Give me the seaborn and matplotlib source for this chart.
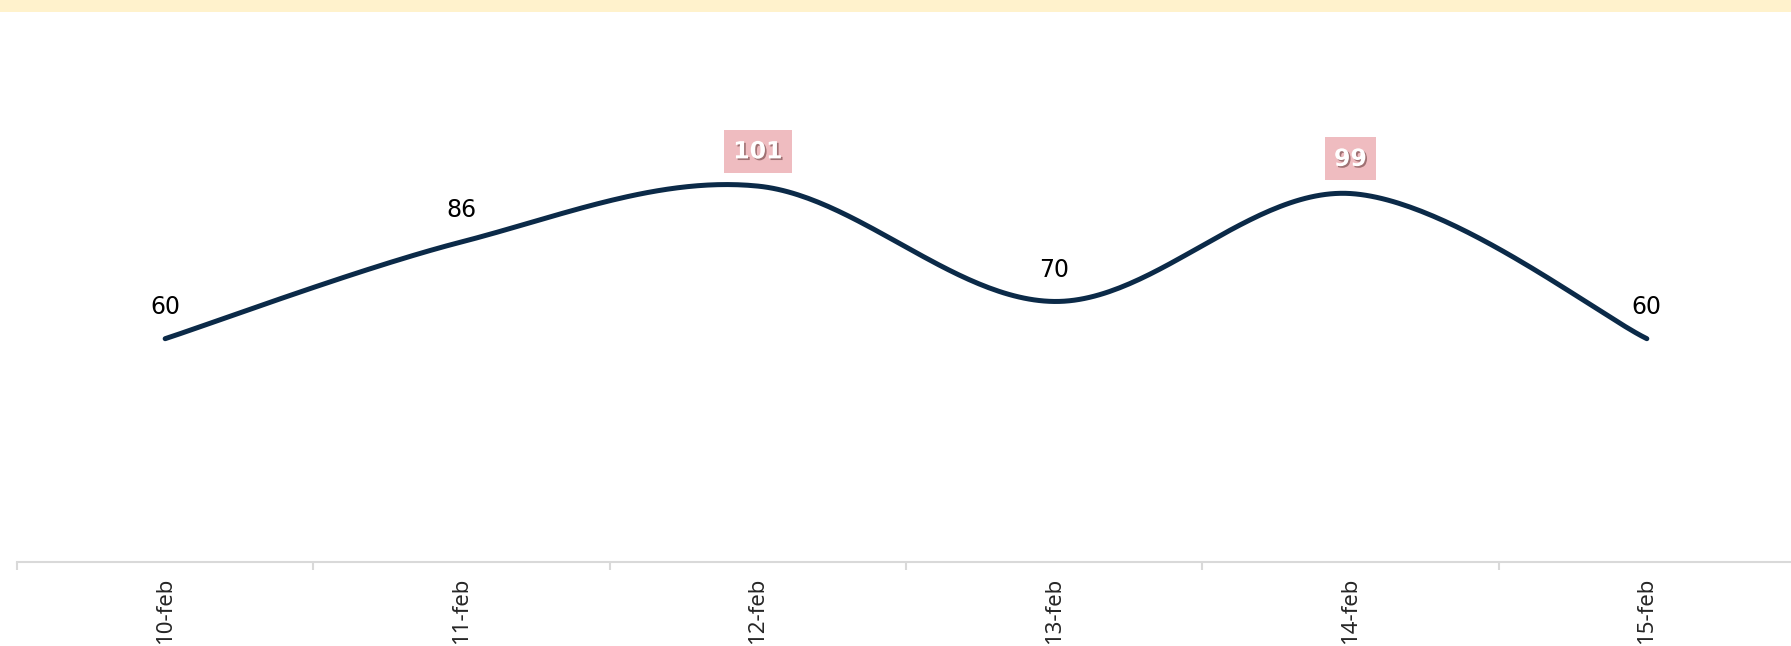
import numpy as np
import pandas as pd
import seaborn as sns
import matplotlib.pyplot as plt
import matplotlib.patheffects as pe
from matplotlib.patches import Rectangle

# data
dates = ['10-feb', '11-feb', '12-feb', '13-feb', '14-feb', '15-feb']
values = [60, 86, 101, 70, 99, 60]
highlight = ['12-feb', '14-feb']

line_color = '#0b2a48'


def smooth(x, y, n=60):
    """Catmull-Rom curve through the points, like a smoothed office line."""
    px = np.concatenate([[x[0]], x, [x[-1]]]).astype(float)
    py = np.concatenate([[y[0]], y, [y[-1]]]).astype(float)
    xs, ys = [], []
    for i in range(1, len(px) - 2):
        t = np.linspace(0, 1, n)
        for p, out in ((px, xs), (py, ys)):
            p0, p1, p2, p3 = p[i - 1], p[i], p[i + 1], p[i + 2]
            out.extend(0.5 * ((2 * p1) + (-p0 + p2) * t
                              + (2 * p0 - 5 * p1 + 4 * p2 - p3) * t ** 2
                              + (-p0 + 3 * p1 - 3 * p2 + p3) * t ** 3))
    return np.array(xs), np.array(ys)


sns.set_style('white')
plt.rcParams['font.family'] = ['DejaVu Sans']

fig = plt.figure(figsize=(17.91, 6.46), dpi=100)
ax = fig.add_axes([17 / 1791, 84 / 646, 1778 / 1791, 562 / 646])

pos = np.arange(len(dates))
sx, sy = smooth(pos, values)
curve = pd.DataFrame({'x': sx, 'y': sy})
sns.lineplot(data=curve, x='x', y='y', sort=False, estimator=None,
             color=line_color, lw=3.6, ax=ax, solid_capstyle='round')

for i, (d, v) in enumerate(zip(dates, values)):
    if d in highlight:
        ax.annotate(str(v), (i, v), xytext=(0, 25), textcoords='offset points',
                    ha='center', va='center', fontsize=17, fontweight='bold',
                    color='white',
                    bbox=dict(boxstyle='square,pad=0.4', fc='#efbcc0', ec='none'),
                    path_effects=[pe.withSimplePatchShadow(offset=(1.2, -1.2),
                                                           shadow_rgbFace='#6a4040',
                                                           alpha=0.6)])
    else:
        ax.annotate(str(v), (i, v), xytext=(0, 23), textcoords='offset points',
                    ha='center', va='center', fontsize=17, color='black')

ax.set_xlim(-0.5, len(dates) - 0.5)
ax.set_ylim(0, 151)
ax.set_xticks(pos)
ax.set_xticklabels(dates, rotation=90, fontsize=16, family='Noto Sans')
ax.set_xticks(np.arange(-0.5, len(dates), 1), minor=True)
ax.tick_params(axis='x', which='major', length=0, pad=11)
ax.tick_params(axis='x', which='minor', length=6, width=1.5, color='#d9d9d9',
               direction='out', bottom=True)
ax.set_yticks([])
ax.set_xlabel('')
ax.set_ylabel('')
for s in ['top', 'right', 'left']:
    ax.spines[s].set_visible(False)
ax.spines['bottom'].set_color('#d9d9d9')
ax.spines['bottom'].set_linewidth(1.5)

# title band at the top (title itself sits above the crop)
fig.patches.append(Rectangle((0, 1 - 12 / 646), 1, 12 / 646,
                             transform=fig.transFigure, fc='#fff2cc',
                             ec='none', zorder=5))

fig.savefig('out.png', dpi=100)
